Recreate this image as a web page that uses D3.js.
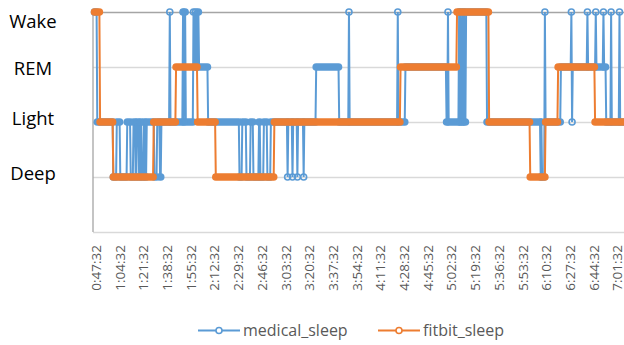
<!DOCTYPE html>
<html>
<head>
<meta charset="utf-8">
<script src="https://cdn.jsdelivr.net/npm/d3@7"></script>
<style>
  body { margin: 0; background: #fff; }
  svg { display: block; font-family: "Open Sans", sans-serif; }
</style>
</head>
<body>
<svg id="chart" width="624" height="345"></svg>
<script>
// sleep stages, bottom to top
var stages = ["Deep", "Light", "REM", "Wake"];

var tickLabels = ["0:47:32", "1:04:32", "1:21:32", "1:38:32", "1:55:32", "2:12:32",
    "2:29:32", "2:46:32", "3:03:32", "3:20:32", "3:37:32", "3:54:32", "4:11:32",
    "4:28:32", "4:45:32", "5:02:32", "5:19:32", "5:36:32", "5:53:32", "6:10:32",
    "6:27:32", "6:44:32", "7:01:32"];

var seriesNames = ["medical_sleep", "fitbit_sleep"];

// stage changes: [first epoch in the new stage, stage]
var medicalChanges = [
    ["0:47:32", "Wake"], ["0:49:32", "Light"], ["1:01:02", "Deep"], ["1:03:32", "Light"],
    ["1:06:02", "Deep"], ["1:11:02", "Light"], ["1:13:32", "Deep"], ["1:15:32", "Light"],
    ["1:17:02", "Deep"], ["1:18:02", "Light"], ["1:19:32", "Deep"], ["1:20:32", "Light"],
    ["1:21:32", "Deep"], ["1:23:02", "Light"], ["1:24:02", "Deep"], ["1:25:02", "Light"],
    ["1:30:32", "Deep"], ["1:32:32", "Light"], ["1:34:32", "Deep"], ["1:35:32", "Light"],
    ["1:41:32", "Wake"], ["1:42:02", "Light"], ["1:51:02", "Wake"], ["1:51:32", "Light"],
    ["1:52:02", "Wake"], ["1:53:02", "Light"], ["1:58:32", "Wake"], ["1:59:02", "REM"],
    ["2:00:02", "Wake"], ["2:00:32", "REM"], ["2:01:32", "Wake"], ["2:02:32", "REM"],
    ["2:09:02", "Light"], ["2:31:32", "Deep"], ["2:33:32", "Light"], ["2:36:32", "Deep"],
    ["2:39:32", "Light"], ["2:41:32", "Deep"], ["2:45:32", "Light"], ["2:46:32", "Deep"],
    ["2:49:02", "Light"], ["2:51:32", "Deep"], ["2:54:02", "Light"], ["3:06:02", "Deep"],
    ["3:06:32", "Light"], ["3:09:32", "Deep"], ["3:10:02", "Light"], ["3:13:02", "Deep"],
    ["3:13:32", "Light"], ["3:17:32", "Deep"], ["3:18:02", "Light"], ["3:26:32", "REM"],
    ["3:43:02", "Light"], ["3:50:02", "Wake"], ["3:50:32", "Light"], ["4:25:02", "Wake"],
    ["4:25:32", "Light"], ["4:30:32", "REM"], ["5:00:02", "Light"], ["5:01:02", "Wake"],
    ["5:01:32", "Light"], ["5:09:02", "Wake"], ["5:09:32", "Light"], ["5:10:02", "Wake"],
    ["5:10:32", "Light"], ["5:11:32", "Wake"], ["5:12:02", "Light"], ["5:12:32", "Wake"],
    ["5:13:02", "Light"], ["5:14:02", "Wake"], ["5:29:02", "Light"], ["6:07:32", "Deep"],
    ["6:08:02", "Light"], ["6:08:32", "Deep"], ["6:10:32", "Wake"], ["6:11:02", "Light"],
    ["6:22:02", "REM"], ["6:29:32", "Wake"], ["6:30:02", "Light"], ["6:30:32", "REM"],
    ["6:41:02", "Wake"], ["6:41:32", "REM"], ["6:47:02", "Wake"], ["6:47:32", "REM"],
    ["6:52:32", "Wake"], ["6:53:02", "REM"], ["6:54:32", "Light"], ["6:58:02", "Wake"],
    ["6:58:32", "Light"], ["7:04:02", "Wake"], ["7:04:32", "Light"]
];

var fitbitChanges = [
    ["0:47:32", "Wake"], ["0:51:32", "Light"], ["1:01:02", "Deep"], ["1:30:02", "Light"],
    ["1:46:02", "REM"], ["2:01:32", "Light"], ["2:14:32", "Deep"], ["2:56:32", "Light"],
    ["4:27:02", "REM"], ["5:07:32", "Wake"], ["5:30:32", "Light"], ["6:00:02", "Deep"],
    ["6:11:02", "Light"], ["6:20:02", "REM"], ["6:46:32", "Light"]
];

var lastEpoch = "7:12:32";
var epochSeconds = 30;

var colors = ["#5B9BD5", "#ED7D31"];
var svg = d3.select("#chart");

var plot = {left: 93, right: 624, top: 12, bottom: 232};

function toSec(s) {
    var p = s.split(":").map(Number);
    return p[0] * 3600 + p[1] * 60 + p[2];
}

// turn the change list into runs of equal stage
function buildRuns(changes) {
    return changes.map(function(c, i) {
        var start = toSec(c[0]);
        var end = i < changes.length - 1 ? toSec(changes[i + 1][0]) - epochSeconds : toSec(lastEpoch);
        return {stage: c[1], start: start, end: end};
    });
}

var xScale = d3.scaleLinear()
    .domain([toSec(tickLabels[0]), toSec(tickLabels[tickLabels.length - 1])])
    .range([94.5, 616]);

var yScale = d3.scaleLinear()
    .domain([0, stages.length])
    .range([plot.bottom, plot.top]);

function yStage(s) { return yScale(stages.indexOf(s) + 1); }

// gridlines
var grid = svg.append("g")
    .attr("transform", "translate(" + plot.left + ",0)")
    .call(d3.axisLeft(yScale).tickValues([0, 1, 2, 3, 4]).tickSize(-(plot.right - plot.left)).tickFormat(""));
grid.select(".domain").remove();
grid.selectAll(".tick line")
    .attr("stroke", function(d) { return d === 4 ? "#a5a5a5" : "#d9d9d9"; })
    .attr("stroke-width", 1.3);

svg.append("line")
    .attr("x1", plot.left).attr("x2", plot.left)
    .attr("y1", plot.top).attr("y2", plot.bottom)
    .attr("stroke", "#a5a5a5").attr("stroke-width", 1.3);

// stage labels (text boxes, not evenly placed)
var labelNudge = {Wake: 16.3, REM: 7.7, Light: 2.7, Deep: 2.7};
svg.append("g").selectAll("text")
    .data(stages)
    .enter().append("text")
    .attr("x", 33)
    .attr("y", function(d) { return yStage(d) + labelNudge[d]; })
    .attr("text-anchor", "middle")
    .attr("font-size", "18.5px")
    .attr("fill", "#000")
    .text(function(d) { return d; });

// time axis
var xAxis = svg.append("g")
    .attr("transform", "translate(0," + plot.bottom + ")")
    .call(d3.axisBottom(xScale)
        .tickValues(tickLabels.map(toSec))
        .tickSize(0)
        .tickFormat(function(d, i) { return tickLabels[i]; }));
xAxis.select(".domain").remove();
xAxis.selectAll("text")
    .attr("transform", "rotate(-90)")
    .attr("text-anchor", "end")
    .attr("x", -13)
    .attr("y", 1)
    .attr("dy", "0.36em")
    .attr("font-family", "Open Sans")
    .attr("font-size", "13.5px")
    .attr("fill", "#595959");

// series
var line = d3.line()
    .x(function(d) { return xScale(d[0]); })
    .y(function(d) { return yStage(d[1]); });

[medicalChanges, fitbitChanges].forEach(function(changes, k) {
    var runs = buildRuns(changes);
    var pts = [];
    runs.forEach(function(r) {
        pts.push([r.start, r.stage]);
        if (r.end > r.start) pts.push([r.end, r.stage]);
    });
    var g = svg.append("g");
    g.append("path")
        .datum(pts)
        .attr("d", line)
        .attr("fill", "none")
        .attr("stroke", colors[k])
        .attr("stroke-width", 2);

    // consecutive markers merge into a bar
    g.selectAll("line.run")
        .data(runs.filter(function(r) { return r.end > r.start; }))
        .enter().append("line")
        .attr("class", "run")
        .attr("x1", function(r) { return xScale(r.start); })
        .attr("x2", function(r) { return xScale(r.end); })
        .attr("y1", function(r) { return yStage(r.stage); })
        .attr("y2", function(r) { return yStage(r.stage); })
        .attr("stroke", colors[k])
        .attr("stroke-width", 7.6)
        .attr("stroke-linecap", "round");

    g.selectAll("circle")
        .data(runs.filter(function(r) { return r.end === r.start; }))
        .enter().append("circle")
        .attr("cx", function(r) { return xScale(r.start); })
        .attr("cy", function(r) { return yStage(r.stage); })
        .attr("r", 3)
        .attr("fill", "none")
        .attr("stroke", colors[k])
        .attr("stroke-width", 1.6);
});

// legend
var legend = svg.append("g").selectAll("g")
    .data(seriesNames)
    .enter().append("g")
    .attr("transform", function(d, i) { return "translate(" + (198 + i * 180) + ",330.5)"; });
legend.append("line")
    .attr("x1", 0).attr("x2", 42)
    .attr("stroke", function(d, i) { return colors[i]; })
    .attr("stroke-width", 2);
legend.append("circle")
    .attr("cx", 21).attr("r", 3)
    .attr("fill", "#fff")
    .attr("stroke", function(d, i) { return colors[i]; })
    .attr("stroke-width", 1.6);
legend.append("text")
    .attr("x", 45).attr("y", 5.5)
    .attr("font-size", "16px")
    .attr("fill", "#595959")
    .text(function(d) { return d; });
</script>
</body>
</html>
